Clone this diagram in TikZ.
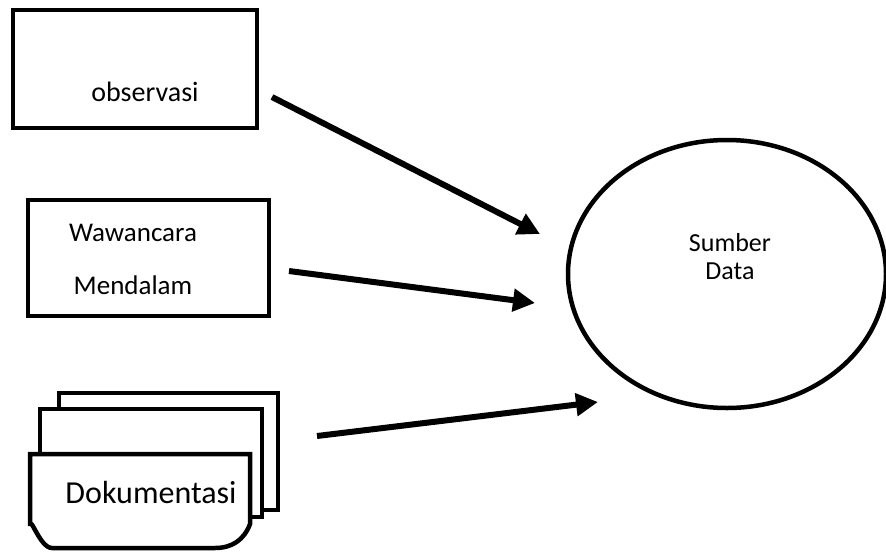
\documentclass[tikz,border=0pt]{standalone}
\usepackage{fontspec}
\setmainfont{Carlito}
\usepackage{tikz}
\usetikzlibrary{arrows.meta,shapes.geometric}

\begin{document}
\begin{tikzpicture}[x=1pt, y=-1pt,
    box/.style={draw, line width=4.5pt, rectangle, fill=white, inner sep=0pt},
    lbl/.style={inner sep=0pt, font=\fontsize{27}{30}\selectfont},
    flow/.style={line width=6pt, -{Triangle[length=22pt, width=22pt]}}]
        \useasboundingbox (0,0) rectangle (886,552);

        % kotak sumber
        \node[box, minimum width=244, minimum height=118] (obs) at (135, 69) {};
        \node[lbl, font=\fontsize{28}{30}\selectfont] (obstxt) at (145, 92) {observasi};

        \node[box, minimum width=241, minimum height=116] (waw) at (148.5, 258) {};
        \node[lbl] (wawtxt) at (133, 233) {Wawancara};
        \node[lbl] (mdltxt) at (133, 285) {Mendalam};

        % dokumen bertumpuk
        \node[box, minimum width=219, minimum height=117] (dok3) at (168.5, 451.5) {};
        \node[box, minimum width=222, minimum height=108] (dok2) at (151, 463) {};
        \draw[line width=4.5pt, fill=white] (30, 454) -- (250, 454) -- (250, 524)
            .. controls (244, 540) and (232, 548) .. (215, 548) -- (52, 548)
            to[out=180, in=90] (30, 526) -- cycle;
        \node[lbl, font=\fontsize{32}{34}\selectfont] (doktxt) at (151, 492) {Dokumentasi};

        % tujuan
        \node[draw, ellipse, line width=4.5pt, minimum width=318, minimum height=268,
              inner sep=0pt] (sd) at (727, 274) {};
        \node[lbl, align=center, font=\fontsize{26}{28}\selectfont] (sdtxt) at (730, 257) {Sumber\\Data};

        % panah
        \coordinate (a1) at (272, 97);   \coordinate (b1) at (540, 234);
        \coordinate (a2) at (289, 271);  \coordinate (b2) at (535, 303);
        \coordinate (a3) at (317, 436);  \coordinate (b3) at (598, 402);
        \draw[flow] (a1) -- (b1);
        \draw[flow] (a2) -- (b2);
        \draw[flow] (a3) -- (b3);
    \end{tikzpicture}
\end{document}
